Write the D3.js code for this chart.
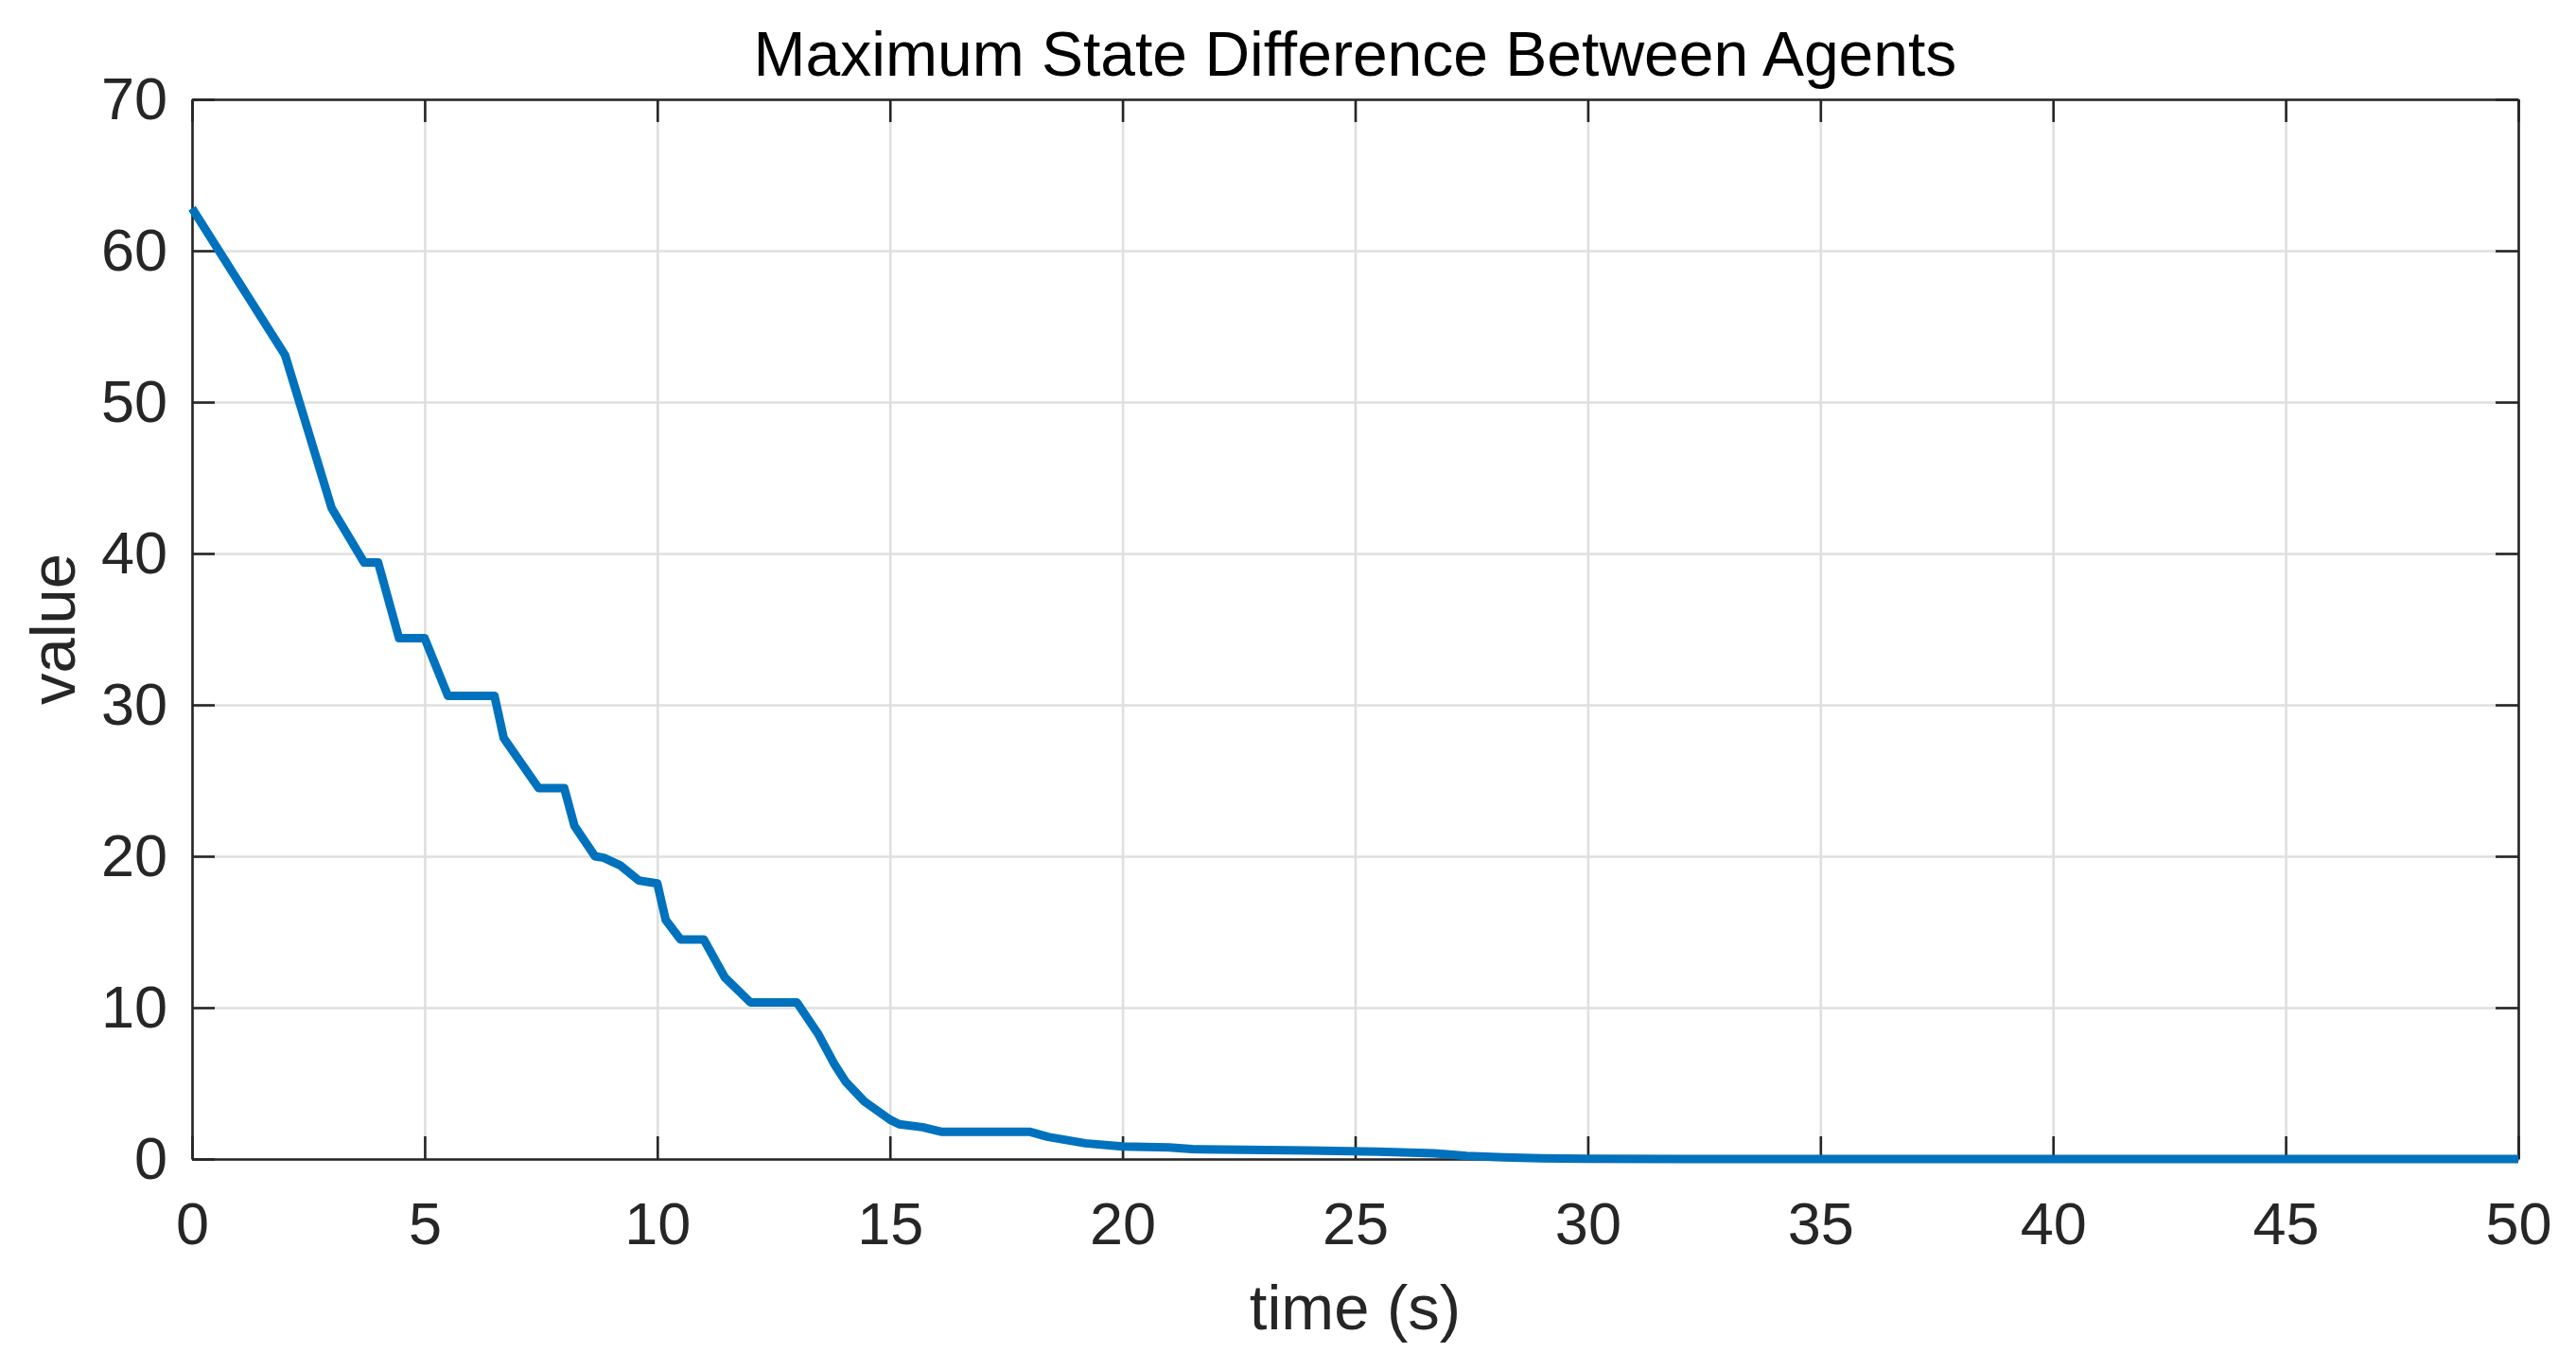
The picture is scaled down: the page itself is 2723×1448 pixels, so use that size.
<!DOCTYPE html>
<html lang="en">
    <head>
        <meta charset="utf-8">
        <title>Maximum State Difference Between Agents</title>
        <style>
            body {
                margin: 0;
                background: #fff;
            }
            #chart text {
                font-family: "Liberation Sans", Arial, Helvetica, sans-serif;
            }
        </style>
    </head>
    <body>
        <section id="chart"></section>
        <script src="https://d3js.org/d3.v7.min.js"></script>
        <script>
            // values
            const timeValues = [0, 2, 3, 3.7, 4.0, 4.45, 5.0, 5.5, 6.5, 6.7, 7.45, 8.0, 8.22, 8.66, 8.85, 9.2, 9.6, 10.0,
                10.18, 10.5, 11.0, 11.45, 12.0, 13.0, 13.45, 13.8, 14.05, 14.45, 15.0, 15.2, 15.7, 16.1, 18.0,
                18.4, 19.2, 20.0, 21.0, 21.5, 24.0, 25.5, 26.7, 27.4, 28.2, 29.0, 30.0, 35.0, 50.0];
            const diffValues = [62.8, 53.1, 43.0, 39.4, 39.4, 34.4, 34.4, 30.6, 30.6, 27.8, 24.5, 24.5, 22.0, 20.0, 19.9, 19.4, 18.4, 18.2,
                15.8, 14.5, 14.5, 12.0, 10.35, 10.35, 8.3, 6.3, 5.1, 3.8, 2.6, 2.3, 2.1, 1.8, 1.8,
                1.46, 1.04, 0.83, 0.77, 0.65, 0.56, 0.48, 0.38, 0.21, 0.11, 0.04, 0.01, 0.0, 0.0];
            const xTicks = [0, 5, 10, 15, 20, 25, 30, 35, 40, 45, 50];
            const yTicks = [0, 10, 20, 30, 40, 50, 60, 70];

            const W = 2723;
            const H = 1448;
            const plotLeft = 203, plotRight = 2662, plotTop = 105, plotBottom = 1225;
            const tickLen = 24;
            const axisColor = "#262626";

            const svg = d3.select("#chart")
                .append("svg")
                .attr("width", W)
                .attr("height", H);

            svg.append("rect")
                .attr("width", W)
                .attr("height", H)
                .attr("fill", "#fff");

            const x = d3.scaleLinear().domain([0, 50]).range([plotLeft, plotRight]);
            const y = d3.scaleLinear().domain([0, 70]).range([plotBottom, plotTop]);

            // grid
            const grid = svg.append("g");
            grid.append("g")
                .attr("transform", "translate(0," + plotBottom + ")")
                .call(d3.axisBottom(x).tickValues(xTicks).tickSize(-(plotBottom - plotTop)).tickFormat(""))
                .call(g => g.select(".domain").remove());
            grid.append("g")
                .attr("transform", "translate(" + plotLeft + ",0)")
                .call(d3.axisLeft(y).tickValues(yTicks).tickSize(-(plotRight - plotLeft)).tickFormat(""))
                .call(g => g.select(".domain").remove());
            grid.selectAll("line")
                .attr("stroke", "#dfdfdf")
                .attr("stroke-width", 2.6);

            // axes, ticks pointing inward on all four sides
            const xAxis = svg.append("g")
                .attr("transform", "translate(0," + plotBottom + ")")
                .call(d3.axisBottom(x).tickValues(xTicks).tickSizeInner(-tickLen).tickSizeOuter(0).tickPadding(45).tickFormat(d3.format("d")));
            const yAxis = svg.append("g")
                .attr("transform", "translate(" + plotLeft + ",0)")
                .call(d3.axisLeft(y).tickValues(yTicks).tickSizeInner(-tickLen).tickSizeOuter(0).tickPadding(26).tickFormat(d3.format("d")));
            const xTop = svg.append("g")
                .attr("transform", "translate(0," + plotTop + ")")
                .call(d3.axisTop(x).tickValues(xTicks).tickSizeInner(-tickLen).tickSizeOuter(0).tickFormat(""));
            const yRight = svg.append("g")
                .attr("transform", "translate(" + plotRight + ",0)")
                .call(d3.axisRight(y).tickValues(yTicks).tickSizeInner(-tickLen).tickSizeOuter(0).tickFormat(""));

            [xAxis, yAxis, xTop, yRight].forEach(a => {
                a.selectAll("line, path")
                    .attr("stroke", axisColor)
                    .attr("stroke-width", 2.6);
                a.selectAll("text")
                    .attr("fill", axisColor)
                    .style("font-size", "63px");
            });

            // data line
            const pts = timeValues.map((t, i) => [t, diffValues[i]]);
            svg.append("path")
                .datum(pts)
                .attr("fill", "none")
                .attr("stroke", "#0072BD")
                .attr("stroke-width", 9)
                .attr("stroke-linejoin", "round")
                .attr("d", d3.line().x(d => x(d[0])).y(d => y(d[1])));

            // labels
            svg.append("text")
                .attr("x", (plotLeft + plotRight) / 2)
                .attr("y", 80)
                .attr("text-anchor", "middle")
                .attr("fill", "#000")
                .style("font-size", "66px")
                .text("Maximum State Difference Between Agents");

            svg.append("text")
                .attr("x", (plotLeft + plotRight) / 2)
                .attr("y", 1405)
                .attr("text-anchor", "middle")
                .attr("fill", axisColor)
                .style("font-size", "67px")
                .text("time (s)");

            svg.append("text")
                .attr("transform", "translate(79," + (plotTop + plotBottom) / 2 + ") rotate(-90)")
                .attr("text-anchor", "middle")
                .attr("fill", axisColor)
                .style("font-size", "67px")
                .text("value");
        </script>
    </body>
</html>
